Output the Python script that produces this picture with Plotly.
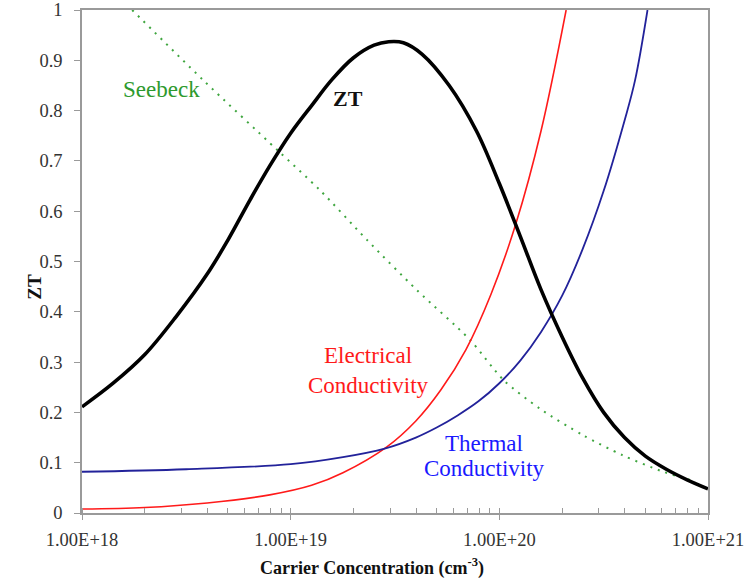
import plotly.graph_objects as go

# Carrier concentration (cm^-3) sample points
zt_x = [1.00e18, 1.41e18, 2.00e18, 2.82e18, 3.98e18, 5.01e18, 6.38e18, 7.94e18,
        1.00e19, 1.26e19, 1.58e19, 2.00e19, 2.51e19, 2.95e19, 3.47e19, 4.27e19,
        5.75e19, 7.76e19, 1.00e20, 1.26e20, 1.58e20, 2.00e20, 2.51e20, 3.16e20,
        3.98e20, 5.01e20, 6.31e20, 7.94e20, 1.00e21]
zt_y = [0.211, 0.258, 0.315, 0.39, 0.475, 0.543, 0.622, 0.69,
        0.755, 0.81, 0.862, 0.905, 0.93, 0.937, 0.935, 0.912,
        0.85, 0.76, 0.655, 0.55, 0.445, 0.35, 0.268, 0.20,
        0.15, 0.113, 0.087, 0.066, 0.048]

el_x = [1.00e18, 2.00e18, 3.98e18, 7.94e18, 1.26e19, 1.78e19, 2.88e19, 3.98e19,
        5.25e19, 6.92e19, 9.12e19, 1.20e20, 1.585e20, 2.09e20]
el_y = [0.008, 0.011, 0.020, 0.036, 0.055, 0.080, 0.131, 0.183,
        0.245, 0.325, 0.435, 0.575, 0.76, 1.0]

th_x = [1.00e18, 3.16e18, 1.00e19, 1.78e19, 2.82e19, 3.98e19, 5.01e19, 6.31e19,
        7.94e19, 1.00e20, 1.26e20, 1.585e20, 2.00e20, 2.51e20, 3.16e20, 3.98e20,
        4.47e20, 5.13e20]
th_y = [0.082, 0.087, 0.097, 0.111, 0.128, 0.15, 0.17, 0.194,
        0.222, 0.258, 0.303, 0.36, 0.432, 0.525, 0.64, 0.78,
        0.86, 1.0]

sb_x = [1.74e18, 3.80e18, 8.61e18, 1.38e19, 2.32e19, 4.03e19, 7.24e19, 1.05e20,
        1.57e20, 2.51e20, 3.89e20, 6.10e20, 8.51e20]
sb_y = [1.0, 0.861, 0.722, 0.642, 0.543, 0.443, 0.344, 0.264,
        0.207, 0.155, 0.115, 0.082, 0.064]

x_tickvals = [1e18, 1e19, 1e20, 1e21]
x_ticktext = ["1.00E+18", "1.00E+19", "1.00E+20", "1.00E+21"]
y_tickvals = [0, 0.1, 0.2, 0.3, 0.4, 0.5, 0.6, 0.7, 0.8, 0.9, 1]
y_ticktext = ["0", "0.1", "0.2", "0.3", "0.4", "0.5", "0.6", "0.7", "0.8", "0.9", "1"]

FONT = "Liberation Serif, Times New Roman, serif"
AX = "#9a9a9a"

fig = go.Figure()
fig.add_trace(go.Scatter(x=sb_x, y=sb_y, mode="lines",
                         line=dict(color="#3fa63f", width=2, dash="2px,6px", shape="spline", smoothing=0.8)))
fig.add_trace(go.Scatter(x=el_x, y=el_y, mode="lines",
                         line=dict(color="#ff1a1a", width=1.6, shape="spline", smoothing=1.0)))
fig.add_trace(go.Scatter(x=th_x, y=th_y, mode="lines",
                         line=dict(color="#22229a", width=1.8, shape="spline", smoothing=1.0)))
fig.add_trace(go.Scatter(x=zt_x, y=zt_y, mode="lines",
                         line=dict(color="#000000", width=3.6, shape="spline", smoothing=1.0)))

ann = [
    dict(x=18.379, y=0.841, text="Seebeck", font=dict(color="#2e9a2e", size=23, family=FONT)),
    dict(x=19.275, y=0.825, text="<b>ZT</b>", font=dict(color="#111111", size=22, family=FONT)),
    dict(x=19.371, y=0.314, text="Electrical", font=dict(color="#ff1a1a", size=23, family=FONT)),
    dict(x=19.371, y=0.254, text="Conductivity", font=dict(color="#ff1a1a", size=23, family=FONT)),
    dict(x=19.926, y=0.139, text="Thermal", font=dict(color="#1a1aff", size=23, family=FONT)),
    dict(x=19.931, y=0.089, text="Conductivity", font=dict(color="#1a1aff", size=23, family=FONT)),
]
for a in ann:
    fig.add_annotation(xref="x", yref="y", showarrow=False, align="center",
                       xanchor="center", yanchor="middle", **a)

# axis titles placed like the reference
fig.add_annotation(xref="paper", yref="y", x=(35 - 82) / 626, y=0.45, text="<b>ZT</b>",
                   textangle=-90, showarrow=False, xanchor="center", yanchor="middle",
                   font=dict(size=19, family=FONT, color="#111111"))
fig.add_annotation(xref="paper", yref="paper", x=(372 - 82) / 626, y=(513 - 567) / 503,
                   text="<b>Carrier Concentration (cm<sup>-3</sup>)</b>",
                   showarrow=False, xanchor="center", yanchor="middle",
                   font=dict(size=18, family=FONT, color="#111111"))

fig.update_layout(
    width=744, height=584,
    margin=dict(l=82, r=36, t=10, b=71),
    paper_bgcolor="white", plot_bgcolor="white",
    showlegend=False,
    font=dict(family=FONT, size=18, color="#333333"),
    xaxis=dict(
        type="log", range=[18, 21], automargin=False,
        tickvals=x_tickvals, ticktext=x_ticktext,
        ticks="outside", ticklen=5, tickcolor=AX, tickwidth=1.2,
        showline=True, linecolor=AX, linewidth=1.5, mirror=True,
        showgrid=False, zeroline=False,
        minor=dict(dtick="D1", ticks="inside", ticklen=5, tickcolor=AX, tickwidth=1.2, showgrid=False),
        tickfont=dict(size=18.5, family=FONT, color="#333333"),
        ticklabelstandoff=4,
        ticklabeloverflow="allow",
    ),
    yaxis=dict(
        range=[0, 1], automargin=False,
        tickvals=y_tickvals, ticktext=y_ticktext,
        ticks="outside", ticklen=6, tickcolor=AX, tickwidth=1.2,
        showline=True, linecolor=AX, linewidth=1.5, mirror=True,
        showgrid=False, zeroline=False,
        tickfont=dict(size=18.5, family=FONT, color="#333333"),
        ticklabelstandoff=8,
        ticklabeloverflow="allow",
    ),
)

fig.write_html("out.html")
